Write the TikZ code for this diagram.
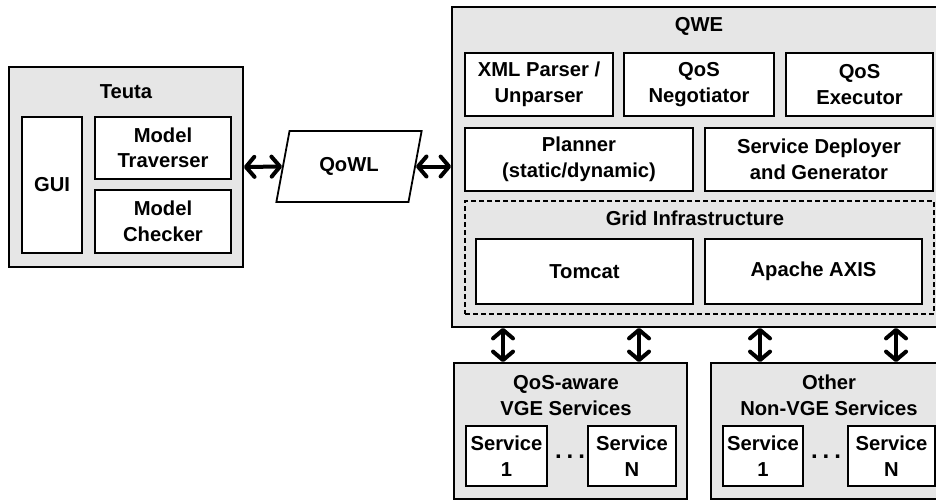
\documentclass[tikz,border=0pt]{standalone}
\usepackage{fontspec}
\setmainfont{Liberation Sans}
\usetikzlibrary{arrows.meta,shapes.geometric}
\definecolor{panelgray}{RGB}{230,230,230}
\tikzset{
  blk/.style={draw, line width=1.8pt, fill=white, inner sep=0pt, align=center},
  panel/.style={blk, fill=panelgray},
  grp/.style={draw, line width=1.5pt, dash pattern=on 5pt off 3pt, inner sep=0pt},
  lbl/.style={inner sep=0pt, align=center},
  barb/.tip={Straight Barb[length=8.5pt, width=20pt, line cap=round, line join=round]},
  link/.style={line width=4pt, barb-barb},
  ellip/.style={inner sep=0pt, font=\fontsize{24}{24}\selectfont\bfseries},
}
\begin{document}
\begin{tikzpicture}[x=1pt, y=-1pt, font=\fontsize{20.2}{25.5}\selectfont\bfseries]
\useasboundingbox (0,0) rectangle (936,500);
\clip (0,0) rectangle (936,500);
\fill[white] (0,0) rectangle (936,500);

% Teuta modelling tool
\node[panel, minimum width=234pt, minimum height=200pt] (teuta) at (126,167) {};
\node[lbl] (teutaL) at (126,92) {Teuta};
\node[blk, minimum width=60pt, minimum height=136pt] (gui) at (52,185) {GUI};
\node[blk, minimum width=136pt, minimum height=62pt] (trav) at (163,148) {Model\\Traverser};
\node[blk, minimum width=136pt, minimum height=63pt] (check) at (163,221.5) {Model\\Checker};

% QoWL document
\node[draw, line width=1.8pt, fill=white, trapezium, trapezium left angle=70,
      trapezium right angle=110, trapezium stretches=true,
      minimum width=146pt, minimum height=71pt, inner sep=0pt] (qowl) at (349,166.5) {QoWL};

% QWE engine
\node[panel, minimum width=494pt, minimum height=320pt] (qwe) at (699,167) {};
\node[lbl] (qweL) at (699,26) {QWE};
\node[blk, minimum width=148pt, minimum height=63pt] (xml) at (539,84.5) {XML Parser /\\Unparser};
\node[blk, minimum width=150pt, minimum height=63pt] (nego) at (699,84.5) {QoS\\Negotiator};
\node[blk, minimum width=147pt, minimum height=63pt] (exec) at (859.5,84.5) {QoS\\Executor};
\node[blk, minimum width=228pt, minimum height=63pt] (plan) at (579,159.5) {Planner\\(static/dynamic)};
\node[blk, minimum width=228pt, minimum height=63pt] (deploy) at (819,159.5) {Service Deployer\\and Generator};
\node[grp, minimum width=469pt, minimum height=113pt] (grid) at (699.5,257.5) {};
\node[lbl] (gridL) at (695,218) {Grid Infrastructure};
\node[blk, minimum width=217pt, minimum height=65pt] (tomcat) at (584.5,271.5) {Tomcat};
\node[blk, minimum width=217pt, minimum height=65pt] (axis) at (813.5,271.5) {Apache AXIS};

% Service groups
\node[panel, minimum width=233pt, minimum height=136pt] (vge) at (570.5,431) {};
\node[lbl] (vgeL) at (566,395.5) {QoS-aware\\VGE Services};
\node[blk, minimum width=81pt, minimum height=60pt] (vs1) at (506.5,456) {Service\\1};
\node[blk, minimum width=88pt, minimum height=60pt] (vsn) at (632,456) {Service\\N};
\node[ellip] (vdots) at (570,457) {.\kern5pt.\kern5pt.};

\node[panel, minimum width=233pt, minimum height=136pt] (oth) at (827.5,431) {};
\node[lbl] (othL) at (829,395.5) {Other\\Non-VGE Services};
\node[blk, minimum width=80pt, minimum height=60pt] (os1) at (763,456) {Service\\1};
\node[blk, minimum width=87pt, minimum height=60pt] (osn) at (891.5,456) {Service\\N};
\node[ellip] (odots) at (826,457) {.\kern5pt.\kern5pt.};

% Connectors
\draw[link] (teuta.east) -- (qowl.west);
\draw[link] (qowl.east) -- (qwe.west |- qowl.east);
\draw[link] ([xshift=-67.5pt]vge.north) -- ([xshift=-67.5pt]vge.north |- qwe.south);
\draw[link] ([xshift=68.5pt]vge.north) -- ([xshift=68.5pt]vge.north |- qwe.south);
\draw[link] ([xshift=-67.5pt]oth.north) -- ([xshift=-67.5pt]oth.north |- qwe.south);
\draw[link] ([xshift=68.5pt]oth.north) -- ([xshift=68.5pt]oth.north |- qwe.south);
\end{tikzpicture}
\end{document}
